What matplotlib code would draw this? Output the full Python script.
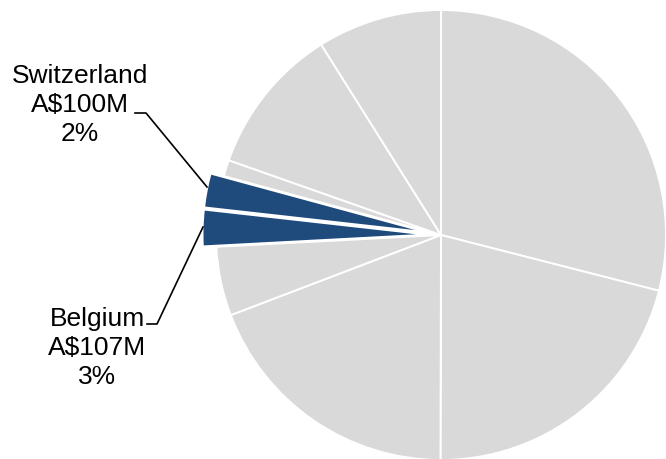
import matplotlib
matplotlib.use("Agg")
import matplotlib.pyplot as plt

# Valores em A$M, em ordem horária a partir do topo
paises = ["P1", "P2", "P3", "P4", "Belgium", "Switzerland", "P7", "P8", "P9"]
valores = [1187, 862, 785, 203, 107, 100, 48, 437, 366]
destaque = ["Belgium", "Switzerland"]
rotulos = {
    "Switzerland": "Switzerland\nA$100M\n2%",
    "Belgium": "Belgium\nA$107M\n3%",
}

CINZA = "#D9D9D9"
AZUL = "#1F4A7C"

W, H = 666, 460
CX, CY, R = 441, 236, 225  # centro e raio da pizza em pixels


def px(x, y):
    """Converte pixels da imagem para coordenadas de dados (raio 1)."""
    return (x - CX) / R, (CY - y) / R


plt.rcParams["font.family"] = ["Liberation Sans", "DejaVu Sans"]
fig = plt.figure(figsize=(W / 100, H / 100), dpi=100)
ax = fig.add_axes([0, 0, 1, 1])

cores = [AZUL if p in destaque else CINZA for p in paises]
explode = [0.06 if p in destaque else 0 for p in paises]
ax.pie(valores, colors=cores, explode=explode, startangle=90, counterclock=False,
       radius=1, wedgeprops=dict(edgecolor="white", linewidth=1.4))

x0, y1 = px(0, 0)
x1, y0 = px(W, H)
ax.set_xlim(x0, x1)
ax.set_ylim(y0, y1)
ax.set_aspect("auto")
ax.axis("off")

# rótulos e linhas de chamada
ax.text(*px(80, 105), rotulos["Switzerland"], ha="center", va="center",
        fontsize=19, linespacing=1.24)
ax.plot(*zip(px(135, 114), px(146, 114), px(207, 188)), color="black", lw=1.2)

ax.text(*px(97, 348), rotulos["Belgium"], ha="center", va="center",
        fontsize=19, linespacing=1.24)
ax.plot(*zip(px(147, 325), px(157, 325), px(203, 228)), color="black", lw=1.2)

fig.savefig("out.png", dpi=100)
